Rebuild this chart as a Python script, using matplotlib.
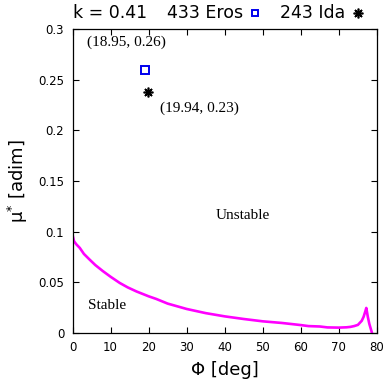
import numpy as np
import matplotlib
matplotlib.use("Agg")
import matplotlib.pyplot as plt

# stability boundary curve
phi = [0, 0.4, 1, 1.9, 3, 4.5, 6, 8, 10, 12.4, 14.5, 16.8, 20, 22, 25, 30,
       35, 40, 45, 50, 55, 60, 62, 65, 67, 70, 72, 73, 74, 75, 76, 76.5, 77,
       77.2, 77.6, 78, 78.7]
mu = [0.097, 0.0905, 0.0875, 0.084, 0.078, 0.0724, 0.067, 0.061, 0.0555,
      0.0494, 0.045, 0.041, 0.0362, 0.0336, 0.029, 0.0237, 0.0196, 0.0164,
      0.0138, 0.0115, 0.0099, 0.0078, 0.0068, 0.0064, 0.0055, 0.0053, 0.0056,
      0.006, 0.0068, 0.008, 0.012, 0.016, 0.022, 0.0247, 0.016, 0.009, 0.0]

eros = (18.95, 0.26)
ida = (19.94, 0.238)
k_value = 0.41

fig = plt.figure(figsize=(3.89, 3.89), dpi=100)
ax = fig.add_axes([0.1864, 0.1440, 0.7826, 0.7815])

ax.plot(phi, mu, color="#ff00ff", lw=1.9)
ax.plot([eros[0]], [eros[1]], ls="none", marker="s", ms=5.5, mfc="none",
        mec="#0000ee", mew=1.4)
ax.plot([ida[0]], [ida[1]], ls="none", marker=(8, 2, 0), ms=7, color="black",
        mew=1.2)

serif = "Liberation Serif"
ax.text(14.2, 0.287, "(18.95, 0.26)", ha="center", va="center",
        fontsize=11, family=serif)
ax.text(33.4, 0.2215, "(19.94, 0.23)", ha="center", va="center",
        fontsize=11, family=serif)
ax.text(44.7, 0.116, "Unstable", ha="center", va="center",
        fontsize=11, family=serif)
ax.text(9.0, 0.0275, "Stable", ha="center", va="center",
        fontsize=11, family=serif)

ax.set_xlim(0, 80)
ax.set_ylim(0, 0.3)
ax.set_xticks(np.arange(0, 81, 10))
ax.set_yticks([0, 0.05, 0.1, 0.15, 0.2, 0.25, 0.3])
ax.set_yticklabels(["0", "0.05", "0.1", "0.15", "0.2", "0.25", "0.3"])
ax.tick_params(direction="in", top=True, right=True, length=4.5, width=0.8,
               labelsize=8.5, pad=6)
for s in ax.spines.values():
    s.set_linewidth(0.9)

ax.set_xlabel("Φ [deg]", fontsize=13, labelpad=5)
ax.set_ylabel("μ$^{*}$ [adim]", fontsize=13, labelpad=6)

# key across the top
ky = 0.966
fig.text(0.188, ky, f"k = {k_value}", fontsize=12.5, va="center", ha="left")
fig.text(0.429, ky, "433 Eros", fontsize=12.5, va="center", ha="left")
fig.text(0.72, ky, "243 Ida", fontsize=12.5, va="center", ha="left")
fig.lines.append(plt.Line2D([0.656], [ky], transform=fig.transFigure,
                            ls="none", marker="s", ms=4.5, mfc="none",
                            mec="#0000ee", mew=1.4))
fig.lines.append(plt.Line2D([0.92], [ky], transform=fig.transFigure,
                            ls="none", marker=(8, 2, 0), ms=7, color="black",
                            mew=1.2))

fig.savefig("out.png", dpi=100)
